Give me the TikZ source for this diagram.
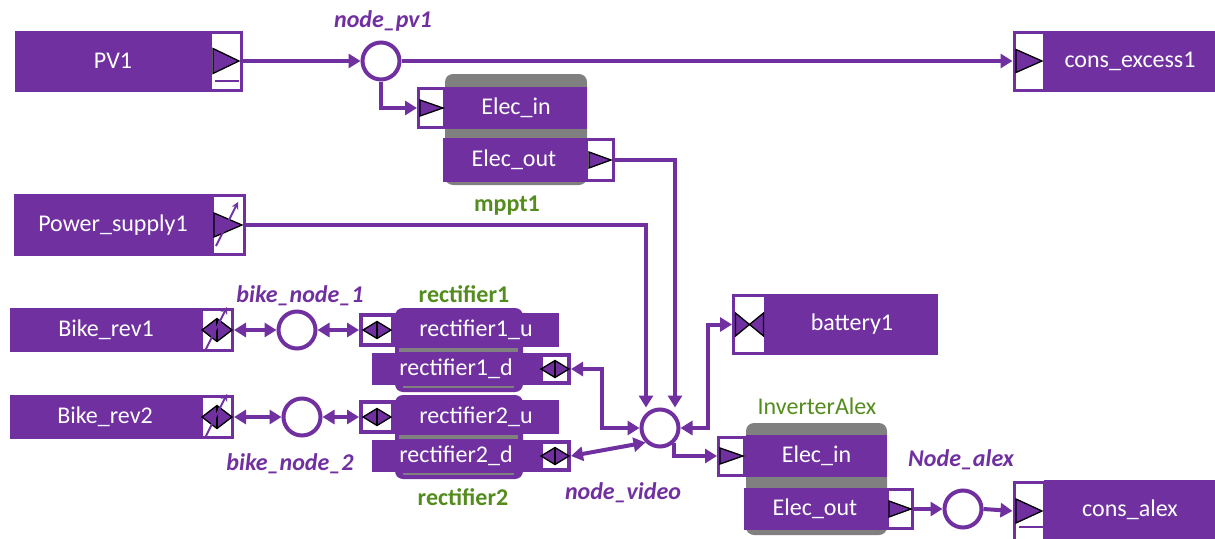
\documentclass[tikz,border=0pt]{standalone}
\usepackage{fontspec}
\setmainfont{Carlito}
\usetikzlibrary{arrows.meta}
\definecolor{vpurple}{RGB}{112,48,160}
\definecolor{vgreen}{RGB}{84,140,30}
\definecolor{vgray}{RGB}{128,128,128}
\tikzset{
 blk/.style={rectangle, fill=vpurple, draw=none, text=white, inner sep=0pt, font=\fontsize{24}{29}\selectfont},
 portbox/.style={rectangle, fill=white, draw=vpurple, line width=3pt, inner sep=0pt},
 junc/.style={circle, fill=white, draw=vpurple, line width=4pt, minimum size=37pt, inner sep=0pt},
 container/.style={rectangle, rounded corners=8pt, fill=vgray, inner sep=0pt},
 lbl/.style={text=vpurple, font=\fontsize{24}{29}\selectfont\bfseries\itshape},
 glbl/.style={text=vgreen, font=\fontsize{24}{29}\selectfont\bfseries},
 glblr/.style={text=vgreen, font=\fontsize{24}{29}\selectfont},
 flow/.style={draw=vpurple, line width=4pt, -{Triangle[length=12pt,width=14pt]}},
 biflow/.style={draw=vpurple, line width=4pt, {Triangle[length=12pt,width=14pt]}-{Triangle[length=12pt,width=14pt]}},
 icon/.style={fill=vpurple, draw=black, line width=1.3pt, line join=miter},
}
\newcommand\mytri[3]{\begin{scope}[shift={(#1.center)}]\filldraw[icon] ({-#2/2},{-#3/2}) -- ({#2/2},0) -- ({-#2/2},{#3/2}) -- cycle;\end{scope}}
\newcommand\mydia[3]{\begin{scope}[shift={(#1.center)}]\filldraw[icon] ({-#2/2},0) -- (0,{-#3/2}) -- ({#2/2},0) -- (0,{#3/2}) -- cycle;\draw[black,line width=1.3pt] (0,{-#3/2}) -- (0,{#3/2});\end{scope}}
\newcommand\myvar[1]{\begin{scope}[shift={(#1.center)}]\draw[vpurple, line width=1.8pt, -{Stealth[length=7pt,width=7pt]}] (-12,21) -- (10,-23);\end{scope}}
\begin{document}
\begin{tikzpicture}[x=1pt,y=-1pt]
\useasboundingbox[fill=white] (0,0) rectangle (1215,538);

% PV1
\node[blk, minimum width=196pt, minimum height=61pt] (pv1) at (113,61) {PV1};
\node[portbox, minimum width=31pt, minimum height=58pt] (pv1p) at (226,61) {};
\mytri{pv1p}{26}{25}
\draw[vpurple, line width=2pt] ([shift={(-11,20)}]pv1p.center) -- ([shift={(13,20)}]pv1p.center);

% node_pv1
\node[junc] (npv1) at (381,61) {};
\node[lbl] (npv1l) at (383,21) {node\_pv1};

% cons_excess1
\node[blk, minimum width=172pt, minimum height=61pt] (cex) at (1130,61) {cons\_excess1};
\node[portbox, minimum width=30pt, minimum height=58pt] (cexp) at (1029,61) {};
\mytri{cexp}{26}{23}

% mppt1
\node[container, minimum width=142pt, minimum height=111pt] (mppt) at (516,129.5) {};
\node[blk, minimum width=142pt, minimum height=42pt] (mpin) at (516,108) {Elec\_in};
\node[portbox, minimum width=26pt, minimum height=39pt] (mpinp) at (431.5,108) {};
\node[blk, minimum width=142pt, minimum height=44pt] (mpout) at (514,160) {Elec\_out};
\node[portbox, minimum width=27pt, minimum height=41pt] (mpoutp) at (600,160) {};
\mytri{mpinp}{23}{16}
\mytri{mpoutp}{22}{16}
\node[glbl] (mpl) at (507,206) {mppt1};

% Power_supply1
\node[blk, minimum width=198pt, minimum height=62pt] (ps) at (113,225) {Power\_supply1};
\node[portbox, minimum width=32pt, minimum height=59pt] (psp) at (228,225) {};
\mytri{psp}{28}{24}
\myvar{psp}

% Bike_rev1
\node[blk, minimum width=192pt, minimum height=44pt] (b1) at (106,330) {Bike\_rev1};
\node[portbox, minimum width=31pt, minimum height=41pt] (b1p) at (217,330) {};
\mydia{b1p}{30}{23}
\myvar{b1p}
\node[junc] (bn1) at (297,330) {};
\node[lbl] (bn1l) at (300,296) {bike\_node\_1};

% Bike_rev2
\node[blk, minimum width=191pt, minimum height=44pt] (b2) at (105,417) {Bike\_rev2};
\node[portbox, minimum width=31pt, minimum height=41pt] (b2p) at (217,417) {};
\mydia{b2p}{30}{23}
\myvar{b2p}
\node[junc] (bn2) at (302,417) {};
\node[lbl] (bn2l) at (290,464) {bike\_node\_2};

% rectifier1
\node[rectangle, rounded corners=8pt, fill=vpurple, minimum width=128pt, minimum height=84pt] (rect1) at (459,350) {};
\node[blk, minimum width=166pt, minimum height=34pt] (r1u) at (476,330) {rectifier1\_u};
\node[portbox, line width=4pt, minimum width=32pt, minimum height=30pt] (r1up) at (377,330) {};
\fill[vgray] (399,348) rectangle (518,352);
\node[blk, minimum width=168pt, minimum height=32pt] (r1d) at (456,369) {rectifier1\_d};
\node[portbox, line width=4pt, minimum width=28pt, minimum height=28pt] (r1dp) at (555,369) {};
\fill[vgray] (403,386) rectangle (514,388);
\mydia{r1up}{28}{17}
\mydia{r1dp}{28}{17}
\node[glbl] (rect1l) at (464,294) {rectifier1};

% rectifier2
\node[rectangle, rounded corners=8pt, fill=vpurple, minimum width=128pt, minimum height=84pt] (rect2) at (459,437) {};
\node[blk, minimum width=166pt, minimum height=34pt] (r2u) at (476,417) {rectifier2\_u};
\node[portbox, line width=4pt, minimum width=32pt, minimum height=30pt] (r2up) at (377,417) {};
\fill[vgray] (399,435) rectangle (518,439);
\node[blk, minimum width=168pt, minimum height=32pt] (r2d) at (456,456) {rectifier2\_d};
\node[portbox, line width=4pt, minimum width=28pt, minimum height=28pt] (r2dp) at (555,456) {};
\fill[vgray] (403,473) rectangle (514,475);
\mydia{r2up}{28}{17}
\mydia{r2dp}{28}{17}
\node[glbl] (rect2l) at (463,497) {rectifier2};

% node_video
\node[junc] (nvid) at (660,428) {};
\node[lbl] (nvidl) at (623,493) {node\_video};

% battery1
\node[blk, minimum width=172pt, minimum height=61pt] (bat) at (852,324.5) {battery1};
\node[portbox, minimum width=32pt, minimum height=58pt] (batp) at (749.5,324.5) {};
\begin{scope}[shift={(batp.center)}]
\filldraw[icon] (-14,-11.5) -- (14,11.5) -- (14,-11.5) -- (-14,11.5) -- cycle;
\end{scope}

% InverterAlex
\node[container, minimum width=141pt, minimum height=112pt] (inv) at (816.5,479) {};
\node[blk, minimum width=141pt, minimum height=42pt] (invin) at (816.5,456) {Elec\_in};
\node[portbox, minimum width=26pt, minimum height=38pt] (invinp) at (731.5,456) {};
\node[blk, minimum width=142pt, minimum height=42pt] (invout) at (815,509) {Elec\_out};
\node[portbox, minimum width=25pt, minimum height=39pt] (invoutp) at (900,509) {};
\mytri{invinp}{23}{16}
\mytri{invoutp}{22}{16}
\node[glblr] (invl) at (817,406) {InverterAlex};

% Node_alex
\node[junc] (nalex) at (963,509) {};
\node[lbl] (nalexl) at (961,460) {Node\_alex};

% cons_alex
\node[blk, minimum width=172pt, minimum height=60pt] (cal) at (1130,510) {cons\_alex};
\node[portbox, minimum width=30pt, minimum height=58pt] (calp) at (1029,511) {};
\mytri{calp}{26}{24}
\draw[vpurple, line width=2pt] ([shift={(-10,16)}]calp.center) -- ([shift={(14,16)}]calp.center);

% connectors
\draw[flow] (pv1p.east) -- (npv1.west);
\draw[flow] (npv1.east) -- (cexp.west);
\draw[flow] (npv1.south) |- (mpinp.west);
\draw[flow] (mpoutp.east) -| ([xshift=15pt]nvid.north);
\draw[flow] (psp.east) -| ([xshift=-14pt]nvid.north);
\draw[biflow] (r1dp.east) -- ++(31,0) |- (nvid.west);
\draw[biflow] (r2dp.east) -- (nvid.south west);
\draw[biflow] (nvid.east) -- ++(27,0) |- (batp.west);
\draw[flow] (nvid.-48) |- (invinp.west);
\draw[flow] (invoutp.east) -- (nalex.west);
\draw[flow] (nalex.east) -- (calp.west);
\draw[biflow] (b1p.east) -- (bn1.west);
\draw[biflow] (bn1.east) -- (r1up.west);
\draw[biflow] (b2p.east) -- (bn2.west);
\draw[biflow] (bn2.east) -- (r2up.west);
\end{tikzpicture}
\end{document}
